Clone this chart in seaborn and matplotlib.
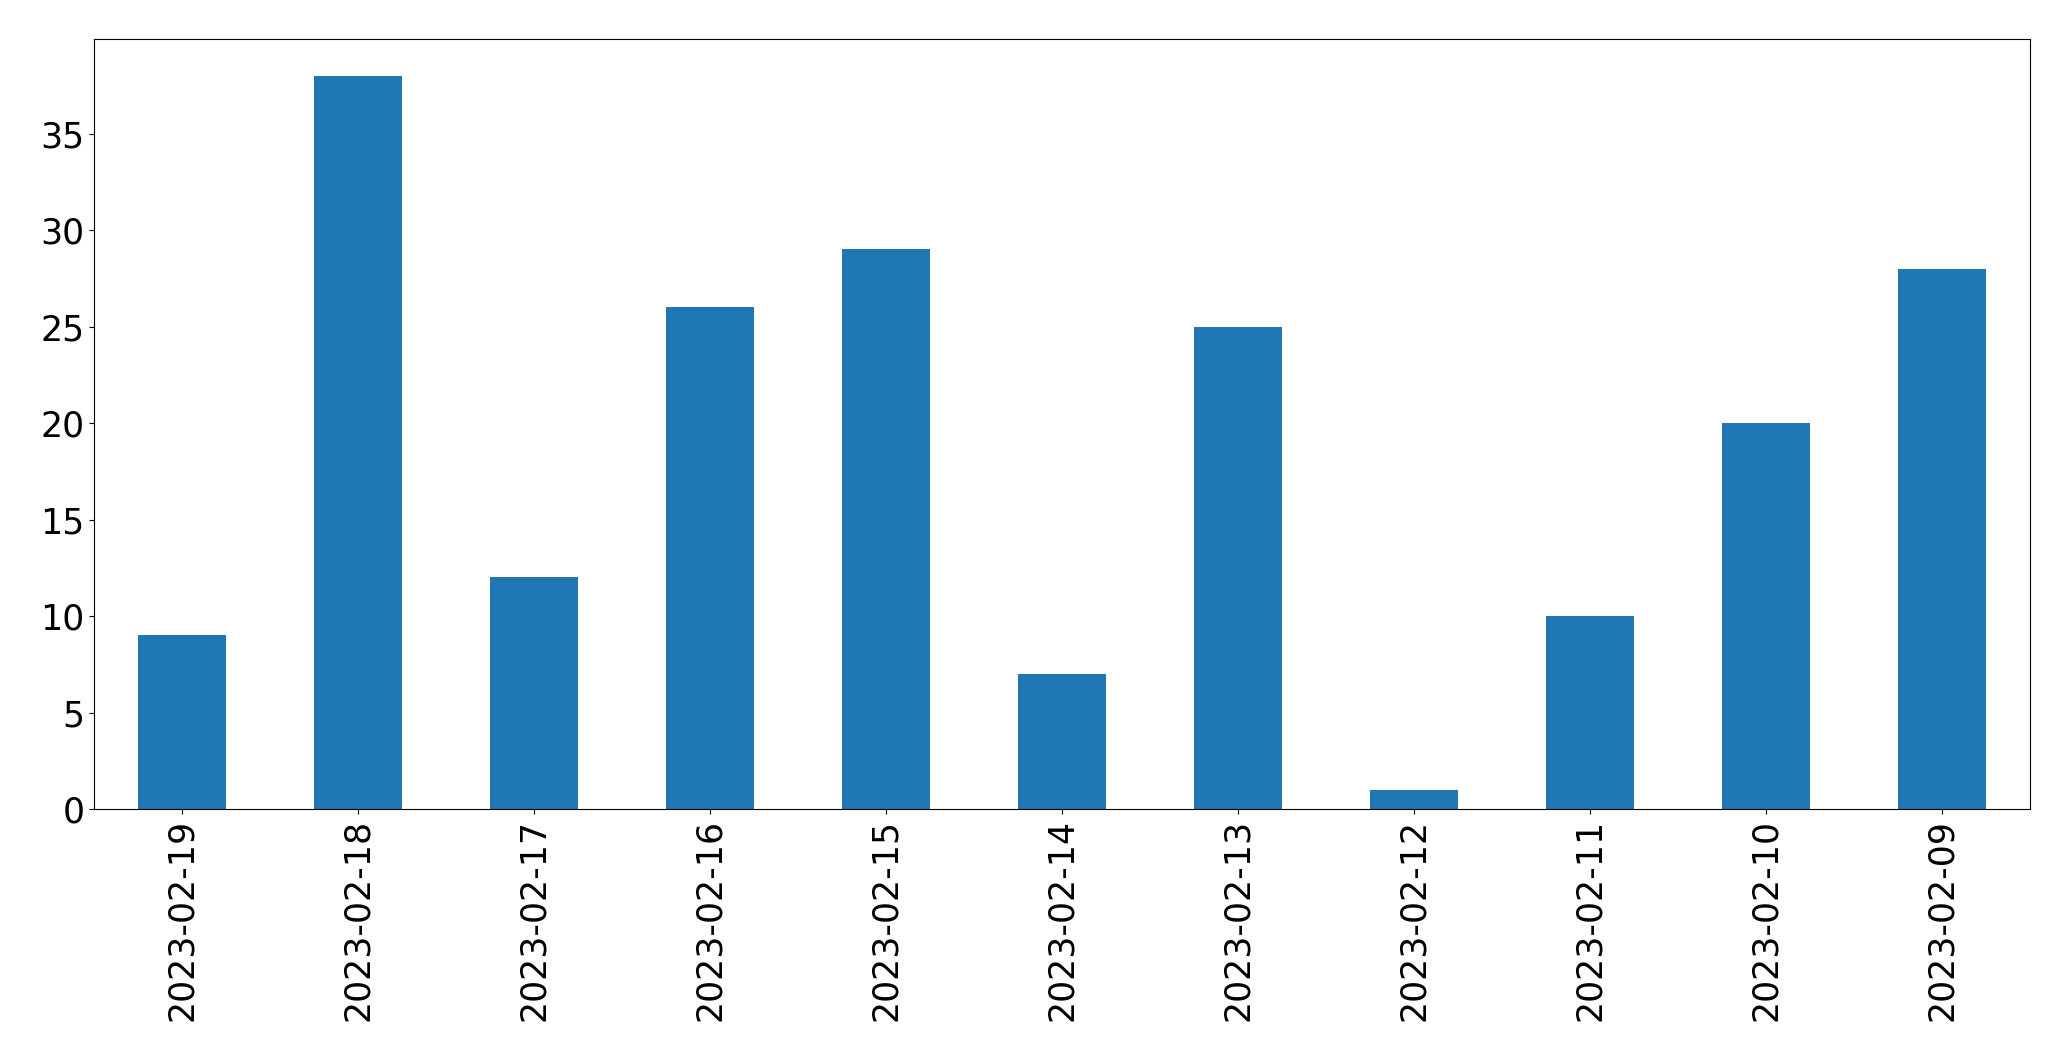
import matplotlib
matplotlib.use("Agg")
import matplotlib.pyplot as plt
import seaborn as sns
import pandas as pd

dates = ["2023-02-19", "2023-02-18", "2023-02-17", "2023-02-16", "2023-02-15",
         "2023-02-14", "2023-02-13", "2023-02-12", "2023-02-11", "2023-02-10",
         "2023-02-09"]
counts = [9, 38, 12, 26, 29, 7, 25, 1, 10, 20, 28]

df = pd.DataFrame({"date": dates, "count": counts})

fig, ax = plt.subplots(figsize=(20.71, 10.61), dpi=100)
fig.subplots_adjust(left=94 / 2071, right=2030 / 2071, top=1 - 39 / 1061, bottom=1 - 809 / 1061)

# bars like pandas' default .plot.bar(): width 0.5, no edges
sns.barplot(data=df, x="date", y="count", order=dates, color="#1f77b4",
            saturation=1, width=0.5, linewidth=0, ax=ax)

ax.set_xlim(-0.5, len(dates) - 0.5)
ax.set_ylim(0, max(counts) * 1.05)
ax.set_xlabel("")
ax.set_ylabel("")
ax.tick_params(axis="both", labelsize=25)
ax.tick_params(axis="x", labelrotation=90)

fig.savefig("out.png", dpi=100)
